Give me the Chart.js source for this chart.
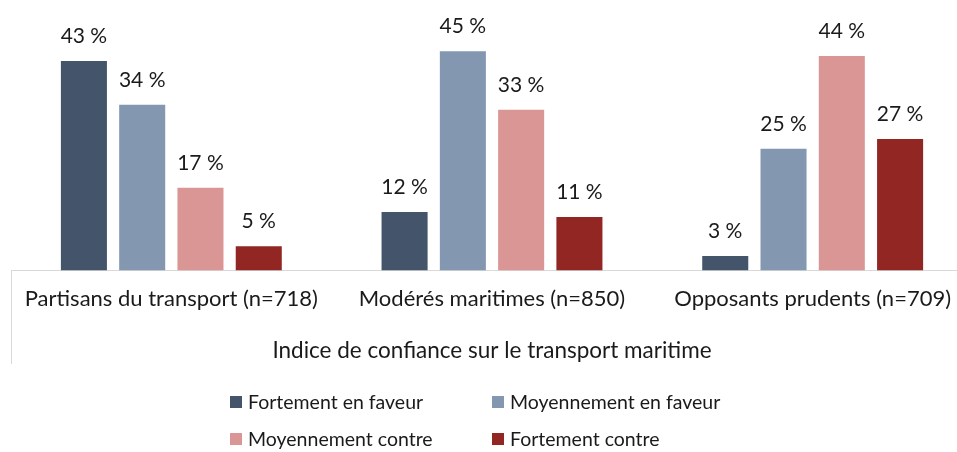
<!DOCTYPE html>
<html>
<head>
<meta charset="utf-8">
<script src="https://cdn.jsdelivr.net/npm/chart.js@4"></script>
<style>
    html, body { margin: 0; padding: 0; background: #fff; overflow: hidden; }
    #wrap { position: relative; width: 974px; height: 452px; }
    #legend {
        position: absolute; left: 230px; top: 390px;
        display: grid; grid-template-columns: 262px 262px; row-gap: 14px;
        font-family: Lato, sans-serif; font-size: 19.5px; color: #1a1a1a;
    }
    #legend .item { display: flex; align-items: center; height: 23px; }
    #legend .box { width: 12px; height: 12px; margin-right: 6px; }
</style>
</head>
<body>
<div id="wrap">
    <canvas id="chart" width="974" height="452"></canvas>
    <div id="legend"></div>
</div>
<script>
// Données
var categories = ['Partisans du transport (n=718)', 'Modérés maritimes (n=850)', 'Opposants prudents (n=709)'];
var seriesNames = ['Fortement en faveur', 'Moyennement en faveur', 'Moyennement contre', 'Fortement contre'];
var fortementFaveur = [43, 12, 3];
var moyennementFaveur = [34, 45, 25];
var moyennementContre = [17, 33, 44];
var fortementContre = [5, 11, 27];
var seriesColors = ['#44546a', '#8497b0', '#da9694', '#922622'];
var axisTitle = 'Indice de confiance sur le transport maritime';

var fontFamily = 'Lato, sans-serif';

// Étiquettes de valeur au-dessus des barres
var valueLabels = {
    id: 'valueLabels',
    afterDatasetsDraw: function(chart) {
        var ctx = chart.ctx;
        ctx.save();
        ctx.font = '21px ' + fontFamily;
        ctx.fillStyle = '#1a1a1a';
        ctx.textAlign = 'center';
        ctx.textBaseline = 'alphabetic';
        chart.data.datasets.forEach(function(ds, i) {
            chart.getDatasetMeta(i).data.forEach(function(bar, j) {
                ctx.fillText(ds.data[j] + ' %', bar.x, bar.y - 18);
            });
        });
        ctx.restore();
    }
};

// Trait vertical à gauche sous l'axe
var leftLine = {
    id: 'leftLine',
    afterDraw: function(chart) {
        var ctx = chart.ctx, x = chart.scales.x;
        ctx.save();
        ctx.strokeStyle = '#d9d9d9';
        ctx.lineWidth = 1;
        ctx.beginPath();
        ctx.moveTo(chart.chartArea.left + 0.5, chart.chartArea.bottom);
        ctx.lineTo(chart.chartArea.left + 0.5, x.bottom);
        ctx.stroke();
        ctx.restore();
    }
};

var seriesData = [fortementFaveur, moyennementFaveur, moyennementContre, fortementContre];

var chart = new Chart(document.getElementById('chart'), {
    type: 'bar',
    data: {
        labels: categories,
        datasets: seriesNames.map(function(name, i) {
            return {
                label: name,
                data: seriesData[i],
                backgroundColor: seriesColors[i],
                categoryPercentage: 0.727,
                barPercentage: 0.79
            };
        })
    },
    options: {
        responsive: false,
        animation: false,
        layout: { padding: { left: 11, right: 1, top: 0, bottom: 88 } },
        plugins: {
            legend: { display: false },
            tooltip: { enabled: false }
        },
        scales: {
            x: {
                grid: { display: false, drawTicks: false, tickLength: 0 },
                border: { display: true, color: '#d9d9d9', width: 1 },
                ticks: {
                    color: '#1a1a1a',
                    font: { family: fontFamily, size: 22 },
                    padding: 15,
                    maxRotation: 0,
                    autoSkip: false
                },
                title: {
                    display: true,
                    text: axisTitle,
                    color: '#1a1a1a',
                    font: { family: fontFamily, size: 22.5 },
                    padding: { top: 10, bottom: 0 }
                }
            },
            y: {
                display: false,
                min: 0,
                max: 55.5
            }
        }
    },
    plugins: [valueLabels, leftLine]
});

// Légende HTML en deux colonnes
var legend = document.getElementById('legend');
seriesNames.forEach(function(name, i) {
    var item = document.createElement('div');
    item.className = 'item';
    var box = document.createElement('span');
    box.className = 'box';
    box.style.background = seriesColors[i];
    item.appendChild(box);
    item.appendChild(document.createTextNode(name));
    legend.appendChild(item);
});
</script>
</body>
</html>
